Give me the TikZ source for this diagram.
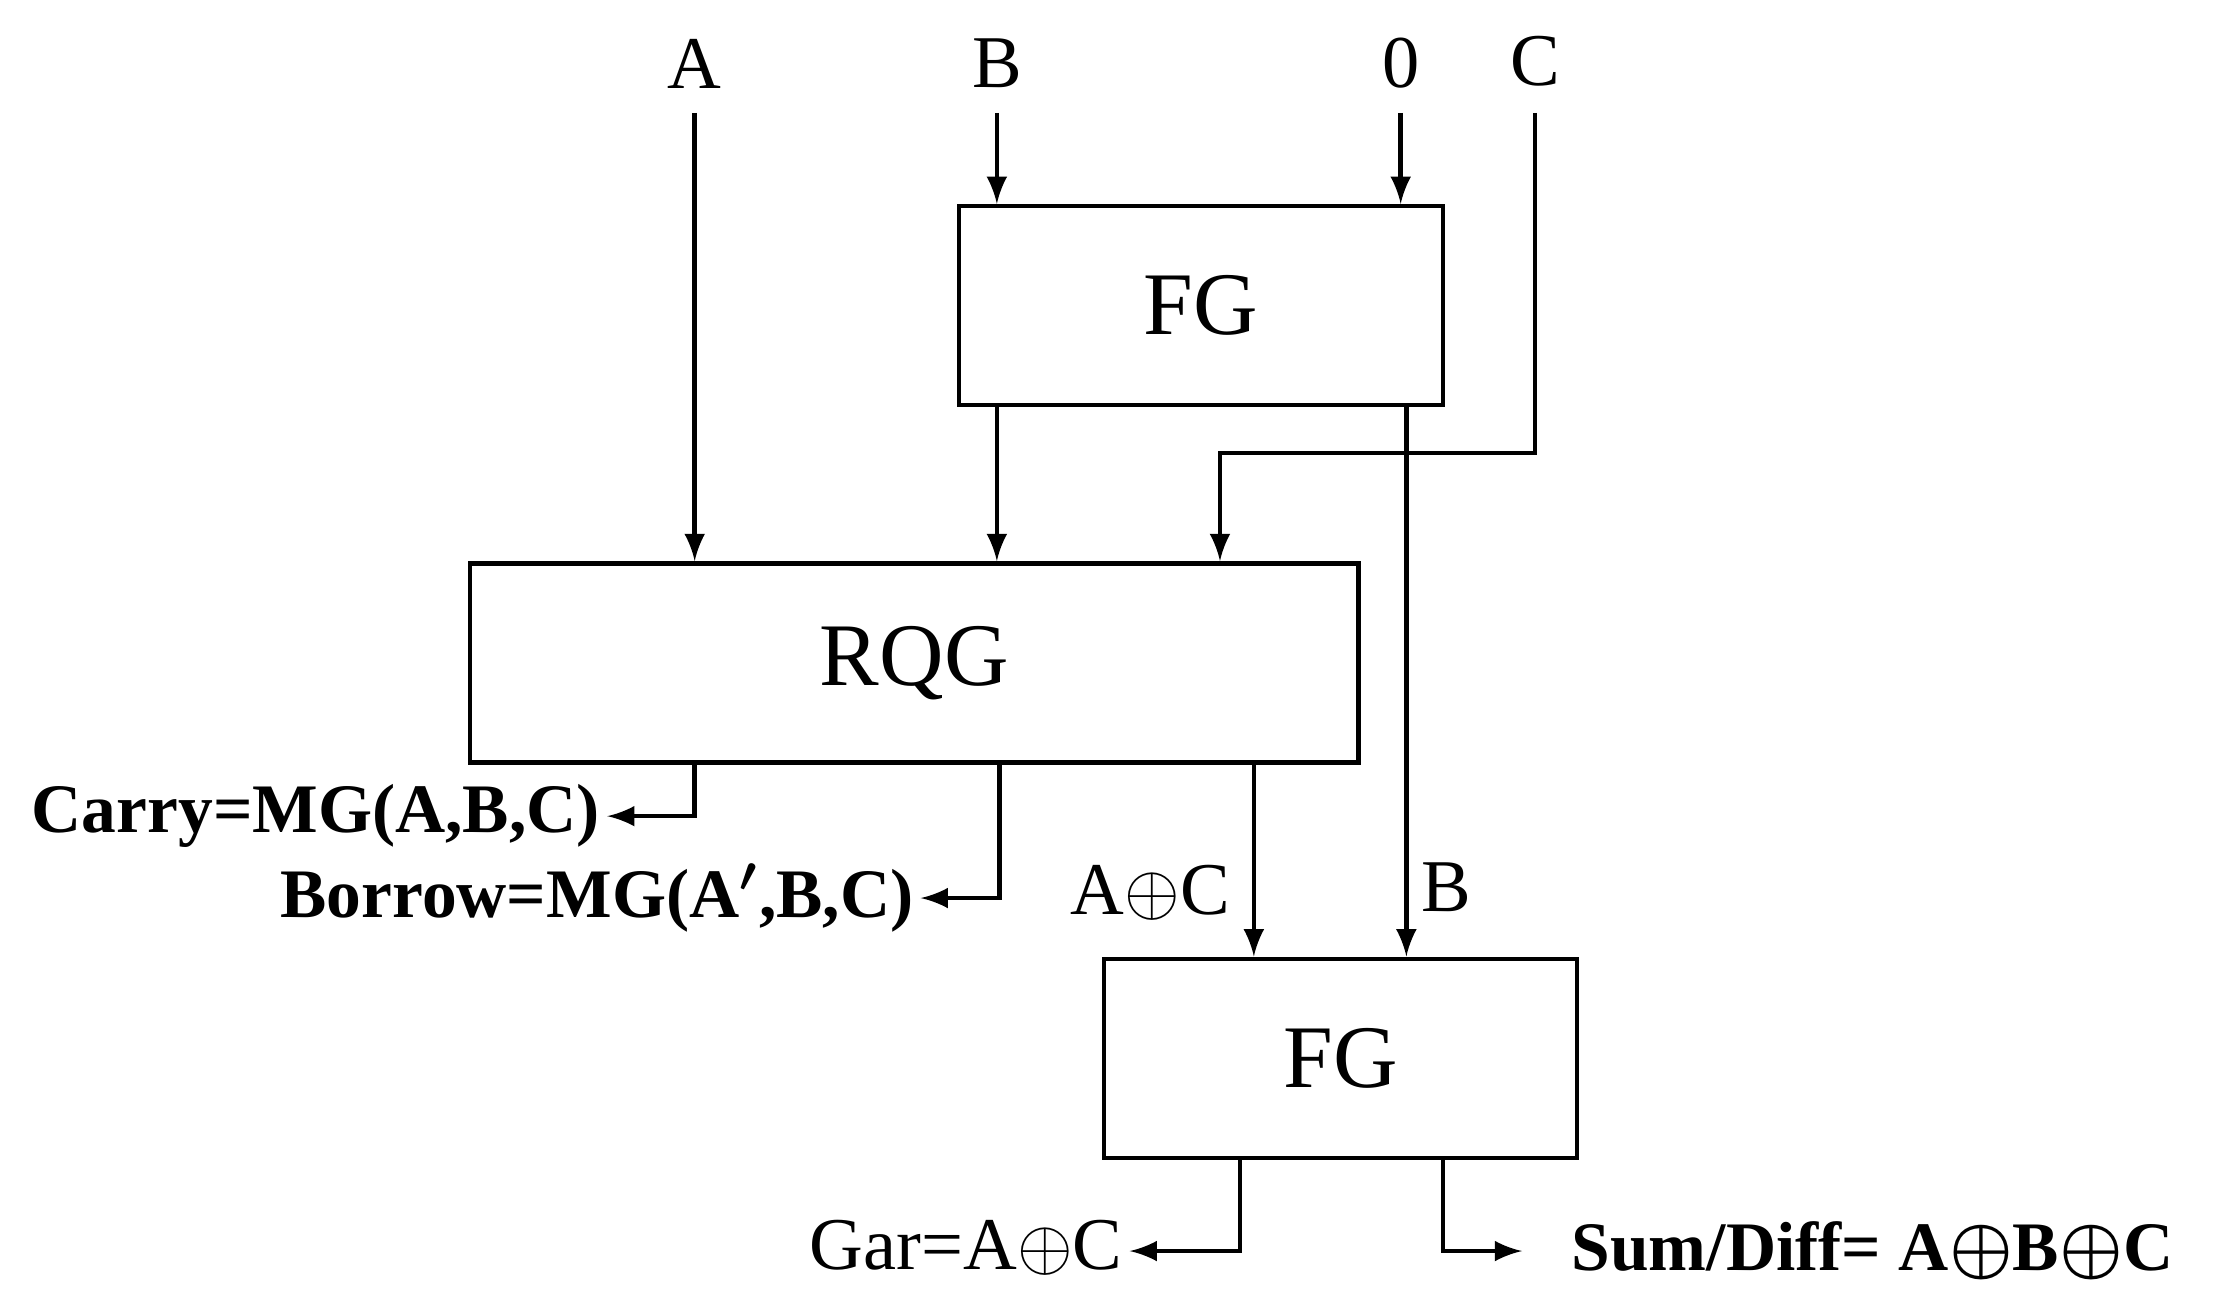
\documentclass[tikz,border=0pt]{standalone}
\usepackage{amsmath}
\usepackage{amssymb}
\usepackage{fontspec}
\setmainfont{Liberation Serif}
\usepackage{tikz}
\usetikzlibrary{positioning}

\begin{document}
\begin{tikzpicture}[>=latex, line width=0.9pt,
    gate/.style={draw, minimum height=1.41cm, inner sep=0pt, font=\fontsize{18}{20}\selectfont},
    lbl/.style={inner sep=1pt, font=\fontsize{15}{17}\selectfont},
    blbl/.style={inner sep=1pt, font=\fontsize{14}{17}\selectfont\bfseries\boldmath}]
        \useasboundingbox (0,0) rectangle (15.68,9.31);

        % Gates
        \node[gate, minimum width=3.43cm] (fga) at (8.505,7.145) {FG};
        \node[gate, minimum width=6.29cm] (rqg) at (6.475,4.615) {RQG};
        \node[gate, minimum width=3.35cm] (fgb) at (9.495,1.815) {FG};

        % Inputs
        \node[lbl] (a) at (4.92,8.86) {A};
        \node[lbl] (b) at (7.06,8.86) {B};
        \node[lbl] (z) at (9.92,8.86) {0};
        \node[lbl] (c) at (10.87,8.88) {C};
        \coordinate (atop) at (4.92,8.51);
        \coordinate (btop) at (7.06,8.51);
        \coordinate (ztop) at (9.92,8.51);
        \coordinate (ctop) at (10.87,8.51);
        \coordinate (cbend) at (10.87,6.10);
        \coordinate (cin) at (8.64,6.10);

        % Outputs
        \node[blbl, anchor=east] (carry) at (4.30,3.53) {Carry=MG(A,B,C)};
        \node[blbl, anchor=east] (borrow) at (6.52,2.95) {Borrow=MG(A$'$,B,C)};
        \node[lbl, anchor=east] (ac) at (8.76,2.99) {A$\oplus$C};
        \node[lbl] (bmid) at (10.24,3.03) {B};
        \node[lbl, anchor=east] (gar) at (8.00,0.47) {Gar=A$\oplus$C};
        \node[blbl, anchor=west] (sum) at (11.08,0.45) {Sum/Diff= A$\oplus$B$\oplus$C};
        \coordinate (ca) at (4.92,3.53);
        \coordinate (bo) at (7.08,2.95);
        \coordinate (ga) at (8.78,0.45);
        \coordinate (su) at (10.22,0.45);

        % Connections
        \draw[->] (atop) -- (atop |- rqg.north);
        \draw[->] (btop) -- (btop |- fga.north);
        \draw[->] (ztop) -- (ztop |- fga.north);
        \draw[->] (ctop) -- (cbend) -- (cin) -- (cin |- rqg.north);
        \draw[->] (fga.south -| btop) -- (btop |- rqg.north);
        \draw[->] (fga.south -| 9.96,0) -- (fgb.north -| 9.96,0);

        \draw[->] (rqg.south -| ca) -- (ca) -- (carry.east |- ca);
        \draw[->] (rqg.south -| bo) -- (bo) -- (borrow.east |- bo);
        \draw[->] (rqg.south -| 8.88,0) -- (fgb.north -| 8.88,0);

        \draw[->] (fgb.south -| ga) -- (ga) -- (gar.east |- ga);
        \draw[->] (fgb.south -| su) -- (su) -- (10.78,0.45);
\end{tikzpicture}
\end{document}
